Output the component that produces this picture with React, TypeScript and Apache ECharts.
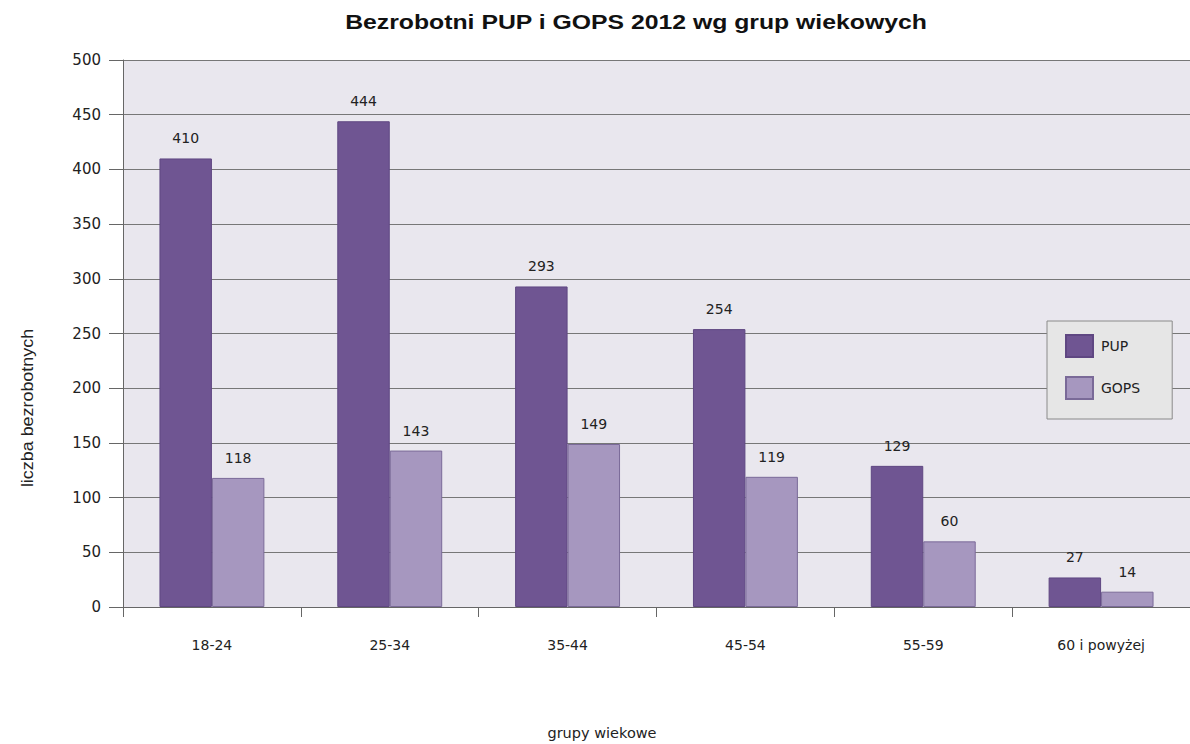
import React, { useEffect, useRef } from "react";
import * as echarts from "echarts";

const categories = ["18-24", "25-34", "35-44", "45-54", "55-59", "60 i powyżej"];
const pupValues = [410, 444, 293, 254, 129, 27];
const gopsValues = [118, 143, 149, 119, 60, 14];
const titleText = "Bezrobotni PUP i GOPS 2012 wg grup wiekowych";
const xAxisName = "grupy wiekowe";
const yAxisName = "liczba bezrobotnych";

const labelFont = "'DejaVu Sans', Verdana, sans-serif";
const narrowFont = "'Liberation Sans', Arial, sans-serif";

export default function App() {
  const ref = useRef<HTMLDivElement>(null);
  useEffect(() => {
    const chart = echarts.init(ref.current!, null, { renderer: "svg" });
    chart.setOption({
      animation: false,
      backgroundColor: "#ffffff",
      legend: {
        orient: "vertical",
        left: 1047,
        top: 321,
        padding: [13, 32, 19, 18],
        backgroundColor: "#e6e6e6",
        borderColor: "#8a8a8a",
        borderWidth: 1,
        icon: "rect",
        itemWidth: 27,
        itemHeight: 22,
        itemGap: 18,
        textStyle: { fontFamily: labelFont, fontSize: 14, color: "#222", padding: [0, 0, 0, 3] },
        data: ["PUP", "GOPS"],
      },
      grid: {
        left: 123,
        right: 0,
        top: 60,
        bottom: 137,
        show: true,
        backgroundColor: "#e9e7ee",
        borderWidth: 0,
      },
      xAxis: {
        type: "category",
        data: categories,
        axisLine: { show: true, lineStyle: { color: "#666", width: 1 } },
        axisTick: { show: true, length: 10, alignWithLabel: false, lineStyle: { color: "#666" } },
        axisLabel: { fontFamily: labelFont, fontSize: 14, color: "#222", margin: 31 },
      },
      yAxis: {
        type: "value",
        min: 0,
        max: 500,
        interval: 50,
        axisLine: { show: true, lineStyle: { color: "#666", width: 1 } },
        axisTick: { show: true, length: 14, lineStyle: { color: "#666" } },
        axisLabel: { fontFamily: labelFont, fontSize: 15, color: "#222", margin: 22 },
        splitLine: { show: true, lineStyle: { color: "#777", width: 1.2 } },
      },
      graphic: [
        {
          type: "text",
          x: 636,
          y: 22,
          scaleX: 1.18,
          style: {
            text: titleText,
            fontFamily: narrowFont,
            fontWeight: "bold",
            fontSize: 21,
            fill: "#111",
            align: "center",
            verticalAlign: "middle",
          },
        },
        {
          type: "text",
          x: 28,
          y: 408,
          rotation: Math.PI / 2,
          scaleX: 1.12,
          style: {
            text: yAxisName,
            fontFamily: narrowFont,
            fontSize: 16,
            fill: "#222",
            align: "center",
            verticalAlign: "middle",
          },
        },
        {
          type: "text",
          x: 602,
          y: 733,
          style: {
            text: xAxisName,
            fontFamily: labelFont,
            fontSize: 14.5,
            fill: "#222",
            align: "center",
            verticalAlign: "middle",
          },
        },
      ],
      series: [
        {
          name: "PUP",
          type: "bar",
          data: pupValues,
          barGap: "0%",
          barCategoryGap: "41%",
          itemStyle: { color: "#6f5592", borderColor: "#5f4782", borderWidth: 1 },
          label: {
            show: true,
            position: "top",
            distance: 13,
            fontFamily: labelFont,
            fontSize: 14,
            color: "#222",
          },
        },
        {
          name: "GOPS",
          type: "bar",
          data: gopsValues,
          itemStyle: { color: "#a697bf", borderColor: "#7a6a98", borderWidth: 1 },
          label: {
            show: true,
            position: "top",
            distance: 13,
            fontFamily: labelFont,
            fontSize: 14,
            color: "#222",
          },
        },
      ],
    });
    return () => chart.dispose();
  }, []);
  return <div ref={ref} style={{ width: 1190, height: 744, position: "absolute", left: 0, top: 0 }} />;
}
